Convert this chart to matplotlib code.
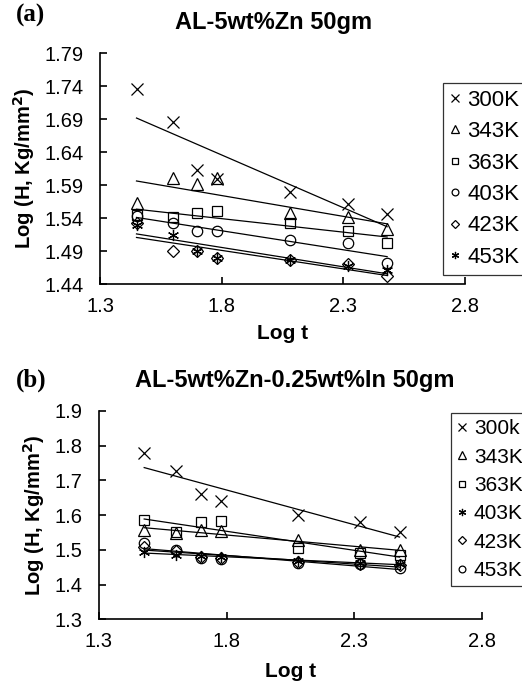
import matplotlib
matplotlib.use('Agg')
import matplotlib.pyplot as plt
import numpy as np

plt.rcParams['font.family'] = ['Liberation Sans', 'DejaVu Sans']

# panel (a): AL-5wt%Zn 50gm
log_t_a = [1.45, 1.60, 1.70, 1.78, 2.08, 2.32, 2.48]
h_a_300 = [1.735, 1.686, 1.613, 1.599, 1.579, 1.561, 1.546]
h_a_343 = [1.562, 1.600, 1.592, 1.601, 1.547, 1.541, 1.524]
h_a_363 = [1.545, 1.542, 1.547, 1.551, 1.532, 1.521, 1.502]
h_a_403 = [1.543, 1.532, 1.521, 1.521, 1.507, 1.502, 1.472]
h_a_423 = [1.532, 1.490, 1.490, 1.480, 1.477, 1.470, 1.452]
h_a_453 = [1.530, 1.514, 1.490, 1.480, 1.477, 1.468, 1.461]
labels_a = ['300K', '343K', '363K', '403K', '423K', '453K']

# panel (b): AL-5wt%Zn-0.25wt%In 50gm
log_t_b = [1.477, 1.602, 1.699, 1.778, 2.079, 2.322, 2.477]
h_b_300 = [1.778, 1.728, 1.660, 1.641, 1.600, 1.581, 1.552]
h_b_343 = [1.557, 1.548, 1.557, 1.555, 1.528, 1.500, 1.500]
h_b_363 = [1.586, 1.552, 1.580, 1.583, 1.505, 1.492, 1.485]
h_b_403 = [1.495, 1.485, 1.482, 1.480, 1.468, 1.462, 1.460]
h_b_423 = [1.509, 1.497, 1.480, 1.478, 1.465, 1.460, 1.455]
h_b_453 = [1.519, 1.500, 1.476, 1.475, 1.463, 1.458, 1.447]
labels_b = ['300k', '343K', '363K', '403K', '423K', '453K']

xticks = [1.3, 1.8, 2.3, 2.8]
yticks_a = [1.44, 1.49, 1.54, 1.59, 1.64, 1.69, 1.74, 1.79]
yticks_b = [1.3, 1.4, 1.5, 1.6, 1.7, 1.8, 1.9]

star = (6, 2, 0)
markers_a = ['x', '^', 's', 'o', 'D', star]
markers_b = ['x', '^', 's', star, 'D', 'o']
sizes = {'x': 8.5, '^': 8, 's': 7.5, 'o': 7.5, 'D': 6, star: 8}


def panel(ax, x, series, labels, markers, yticks, yfmt, leg_anchor, leg_font, leg_space, xpad):
    handles = []
    for y, lab, m in zip(series, labels, markers):
        h, = ax.plot(x, y, linestyle='none', marker=m, ms=sizes[m], mfc='none',
                     mec='black', mew=0.9, label=lab, clip_on=False)
        handles.append(h)
        # linear trendline of each series
        k, b = np.polyfit(x, y, 1)
        xs = np.array([min(x), max(x)])
        ax.plot(xs, k * xs + b, color='black', lw=0.9)

    ax.set_xlim(1.3, 2.8)
    ax.set_ylim(yticks[0], yticks[-1])
    ax.set_xticks(xticks)
    ax.set_xticklabels([f'{v:.1f}' for v in xticks])
    ax.set_yticks(yticks)
    ax.set_yticklabels([yfmt.format(v) for v in yticks])
    ax.spines['top'].set_visible(False)
    ax.spines['right'].set_visible(False)
    for s in ('left', 'bottom'):
        ax.spines[s].set_linewidth(1.2)
    ax.tick_params(axis='both', direction='in', length=5, width=1.2, labelsize=14.5)
    ax.tick_params(axis='y', pad=12)
    ax.tick_params(axis='x', pad=9)
    ax.set_xlabel('Log t', fontsize=15, fontweight='bold', labelpad=xpad)
    ax.set_ylabel('Log (H, Kg/mm$\\mathbf{^2}$)', fontsize=14.5, fontweight='bold', labelpad=5)

    leg = ax.legend(handles=handles, loc='upper left', bbox_to_anchor=leg_anchor,
                    bbox_transform=ax.figure.transFigure, fontsize=leg_font, frameon=True,
                    fancybox=False, edgecolor='black', handlelength=0.5, handletextpad=0.3,
                    borderpad=0.3, borderaxespad=0, labelspacing=leg_space, markerscale=0.65)
    leg.get_frame().set_linewidth(0.9)
    return leg


fig = plt.figure(figsize=(5.22, 6.81), dpi=100)

W, H = 522, 681
ax1 = fig.add_axes([100 / W, (H - 284) / H, 365 / W, 231 / H])
ax2 = fig.add_axes([99 / W, (H - 619.3) / H, 383 / W, 208.3 / H])

panel(ax1, log_t_a, [h_a_300, h_a_343, h_a_363, h_a_403, h_a_423, h_a_453], labels_a,
      markers_a, yticks_a, '{:.2f}', (443 / W, 1 - 83 / H), 16, 0.47, 6)
panel(ax2, log_t_b, [h_b_300, h_b_343, h_b_363, h_b_403, h_b_423, h_b_453], labels_b,
      markers_b, yticks_b, '{:.1f}', (451 / W, 1 - 413 / H), 15, 0.45, 8)

fig.text(274 / W, 1 - 23 / H, 'AL-5wt%Zn 50gm', ha='center', va='center', fontsize=17, fontweight='bold')
fig.text(295 / W, 1 - 380 / H, 'AL-5wt%Zn-0.25wt%In 50gm', ha='center', va='center', fontsize=17, fontweight='bold')
fig.text(16 / W, 1 - 15 / H, '(a)', ha='left', va='center', fontsize=18, fontweight='bold', family='Liberation Serif')
fig.text(16 / W, 1 - 380 / H, '(b)', ha='left', va='center', fontsize=18, fontweight='bold', family='Liberation Serif')

fig.savefig('out.png', dpi=100)
